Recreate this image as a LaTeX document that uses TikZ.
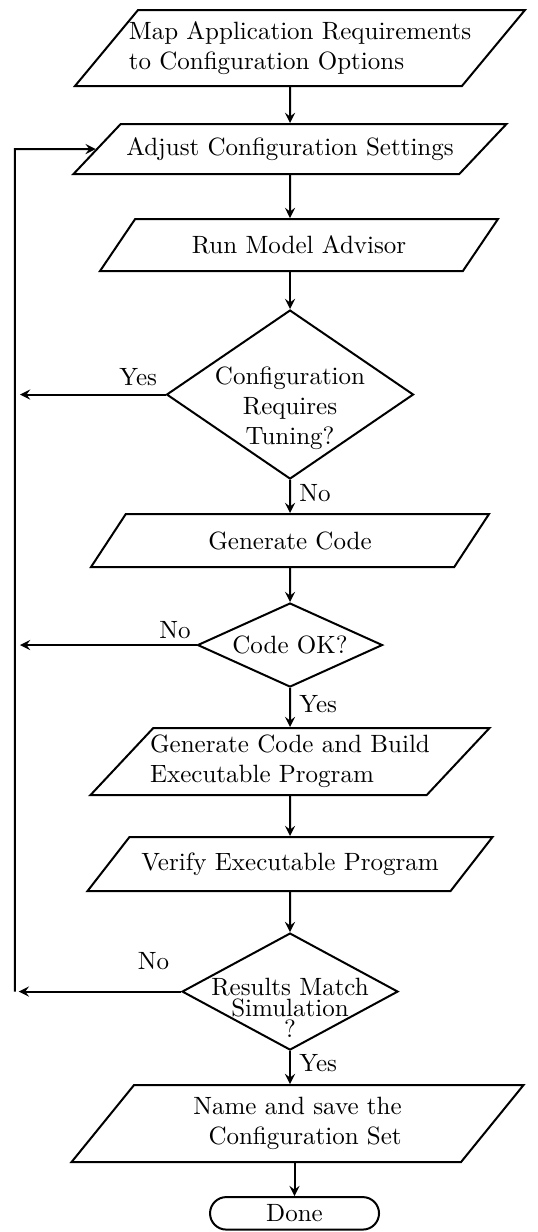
\documentclass[tikz,border=0pt]{standalone}
\usepackage{tikz}
\usetikzlibrary{shapes.geometric, arrows, arrows.meta, positioning}
\tikzstyle{io} = [trapezium, trapezium left angle=40, trapezium right angle=140, trapezium stretches body, draw=black, thick, inner xsep=-30pt, inner ysep=2pt, text centered]
\tikzstyle{decision} = [diamond, aspect=2, draw=black, thick, inner sep=-12pt, align=center]
\tikzstyle{terminal} = [rectangle, rounded corners=6.5pt, draw=black, thick, minimum width=67.6pt, minimum height=13pt, inner sep=1pt]
\tikzstyle{arrow} = [thick,->,>=stealth]

\begin{document}
\begin{tikzpicture}
    \useasboundingbox (-116pt,0) rectangle (98.8pt,-492.8pt);

    \node (map) [io, minimum width=180pt, minimum height=30.4pt, trapezium left angle=45, trapezium right angle=135, align=left] at (4pt,-19.2pt) {Map Application Requirements\\to Configuration Options};
    \node (adjust) [io, below=14.4pt of map, xshift=-4pt, minimum width=173.2pt, minimum height=20pt, trapezium left angle=35, trapezium right angle=145] {Adjust Configuration Settings};
    \node (advisor) [io, below=17.2pt of adjust, xshift=3.6pt, minimum width=159.2pt, minimum height=20.8pt, trapezium left angle=39, trapezium right angle=141] {Run Model Advisor};
    \node (tuning) [decision, below=14.8pt of advisor, xshift=-3.6pt, minimum width=98.8pt, minimum height=67.6pt] {\rule{0pt}{18pt}Configuration\\Requires\\Tuning?};
    \node (gencode) [io, below=13.2pt of tuning, minimum width=159.2pt, minimum height=21.2pt, trapezium left angle=39, trapezium right angle=141] {Generate Code};
    \node (codeok) [decision, below=13.6pt of gencode, minimum width=74pt, minimum height=33.6pt, inner sep=0pt] {Code OK?};
    \node (build) [io, below=15.6pt of codeok, minimum width=159.6pt, minimum height=26.8pt, trapezium left angle=45, trapezium right angle=135, align=left] {Generate Code and Build\\Executable Program};
    \node (verify) [io, below=16pt of build, minimum width=162pt, minimum height=21.6pt, trapezium left angle=38, trapezium right angle=142] {Verify Executable Program};
    \node (results) [decision, below=16pt of verify, minimum width=86.4pt, minimum height=46.8pt] {\rule{0pt}{20pt}Results Match\\[-3.5pt]Simulation\\[-3.5pt]?};
    \node (saveset) [io, below=13.2pt of results, xshift=3pt, minimum width=180.8pt, minimum height=30.8pt, trapezium left angle=45, trapezium right angle=135, align=right] {Name and save the\\Configuration Set};
    \node (done) [terminal, below=13.2pt of saveset, xshift=-1.2pt] {Done};

    \coordinate (loop) at (-110pt,0);

    \draw [arrow] (map.south -| adjust) -- (adjust);
    \draw [arrow] (adjust) -- (advisor.north -| adjust);
    \draw [arrow] (advisor.south -| tuning) -- (tuning);
    \draw [arrow] (tuning) -- node[right, pos=0.4] {No} (gencode);
    \draw [arrow] (gencode) -- (codeok);
    \draw [arrow] (codeok) -- node[right, pos=0.4] {Yes} (build);
    \draw [arrow] (build) -- (verify);
    \draw [arrow] (verify) -- (results);
    \draw [arrow] (results) -- node[right, pos=0.35] {Yes} (saveset.north -| results);
    \draw [arrow] (saveset.south -| done) -- (done);

    % back to the settings
    \draw [arrow, shorten >=2pt] (tuning.west) -- node[pos=0, above left, inner sep=3pt] {Yes} (tuning.west -| loop);
    \draw [arrow, shorten >=2pt] (codeok.west) -- node[pos=0, above left, inner sep=2pt] {No} (codeok.west -| loop);
    \draw [arrow, shorten >=1.5pt] (results.west) -- node[pos=0, above left=5pt and 1pt] {No} (results.west -| loop);
    \draw [arrow] (loop |- results.west) -- (loop |- adjust) -- (adjust);
\end{tikzpicture}
\end{document}
